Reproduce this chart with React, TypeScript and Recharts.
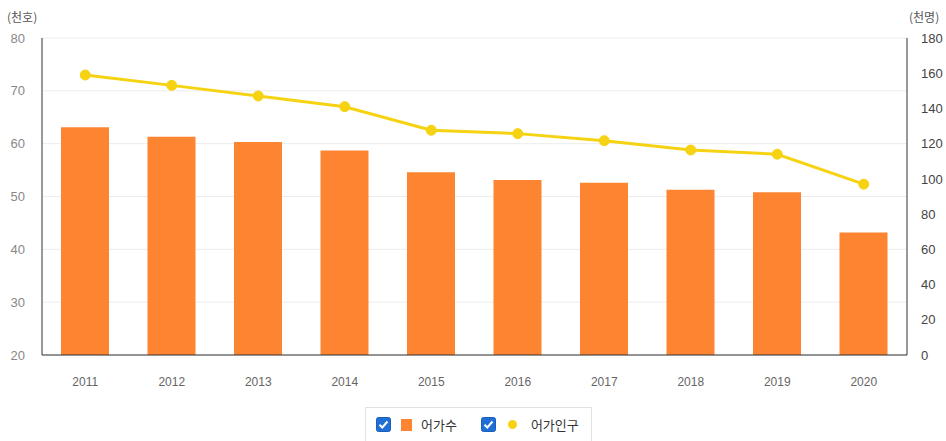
import React from 'react';
import { ComposedChart, Bar, Line, XAxis, YAxis, CartesianGrid } from 'recharts';

const years = ['2011', '2012', '2013', '2014', '2015', '2016', '2017', '2018', '2019', '2020'];
const households = [63.1, 61.3, 60.3, 58.7, 54.6, 53.1, 52.6, 51.3, 50.8, 43.2];
const population = [159.0, 153.1, 147.1, 141.0, 127.6, 125.7, 121.7, 116.4, 114.0, 97.0];
const leftTicks = [20, 30, 40, 50, 60, 70, 80];
const rightTicks = [0, 20, 40, 60, 80, 100, 120, 140, 160, 180];

const seriesNames = { households: '어가수', population: '어가인구' };
const BAR_COLOR = '#fd8430';
const LINE_COLOR = '#f6d312';

const data = years.map((y, i) => ({ year: y, households: households[i], population: population[i] }));

const numFont = '"Liberation Sans", Arial, sans-serif';
const krFont = '"Noto Sans CJK KR", "Noto Sans", sans-serif';

const Check = () => (
  <svg width={15} height={15} style={{ display: 'block' }}>
    <rect x={0.5} y={0.5} width={14} height={14} rx={2} fill="#1f6fd6" stroke="#1a5fb8" />
    <path d="M3.5 7.8 L6.3 10.5 L11.5 4.5" stroke="#fff" strokeWidth={2} fill="none" />
  </svg>
);

export default function App() {
  return (
    <div style={{ position: 'absolute', left: 0, top: 0, width: 946, height: 441, background: '#fff', overflow: 'hidden' }}>
      <div style={{ position: 'absolute', left: 7, top: 8, fontSize: 12, color: '#555', fontFamily: krFont }}>(천호)</div>
      <div style={{ position: 'absolute', left: 909, top: 8, fontSize: 12, color: '#555', fontFamily: krFont, whiteSpace: 'nowrap' }}>(천명)</div>
      <ComposedChart width={946} height={400} data={data} margin={{ top: 38, right: 0, left: 0, bottom: 0 }}>
        <CartesianGrid vertical={false} stroke="#ececec" yAxisId="left" />
        <XAxis
          dataKey="year"
          height={45}
          tickLine={false}
          tickSize={0}
          tickMargin={22}
          axisLine={{ stroke: '#333' }}
          tick={{ fill: '#666', fontSize: 12, fontFamily: numFont }}
        />
        <YAxis
          yAxisId="left"
          orientation="left"
          width={42}
          domain={[20, 80]}
          ticks={leftTicks}
          interval={0}
          tickLine={false}
          tickSize={0}
          tickMargin={17}
          axisLine={{ stroke: '#333' }}
          tick={{ fill: '#888', fontSize: 13, fontFamily: numFont }}
        />
        <YAxis
          yAxisId="right"
          orientation="right"
          width={39}
          domain={[0, 180]}
          ticks={rightTicks}
          interval={0}
          tickLine={false}
          tickSize={0}
          tickMargin={14}
          axisLine={{ stroke: '#333' }}
          tick={{ fill: '#444', fontSize: 13, fontFamily: numFont }}
        />
        <Bar yAxisId="left" dataKey="households" name={seriesNames.households} fill={BAR_COLOR} barSize={48} isAnimationActive={false} />
        <Line
          yAxisId="right"
          dataKey="population"
          name={seriesNames.population}
          stroke={LINE_COLOR}
          strokeWidth={3}
          dot={{ r: 5, fill: LINE_COLOR, stroke: LINE_COLOR, strokeWidth: 1 }}
          activeDot={false}
          isAnimationActive={false}
        />
      </ComposedChart>
      <div
        style={{
          position: 'absolute',
          left: 365,
          top: 407,
          width: 227,
          height: 40,
          border: '1px solid #e2e2e2',
          boxSizing: 'border-box',
          display: 'flex',
          alignItems: 'flex-start',
          paddingTop: 9,
          paddingLeft: 10,
          fontFamily: krFont,
          fontSize: 13,
          color: '#333',
        }}
      >
        <Check />
        <div style={{ width: 11, height: 12, background: BAR_COLOR, marginLeft: 10, marginTop: 2 }} />
        <span style={{ marginLeft: 9, lineHeight: '15px' }}>{seriesNames.households}</span>
        <div style={{ marginLeft: 24 }}><Check /></div>
        <div style={{ width: 9, height: 9, borderRadius: '50%', background: LINE_COLOR, marginLeft: 12, marginTop: 3 }} />
        <span style={{ marginLeft: 14, lineHeight: '15px' }}>{seriesNames.population}</span>
      </div>
    </div>
  );
}
